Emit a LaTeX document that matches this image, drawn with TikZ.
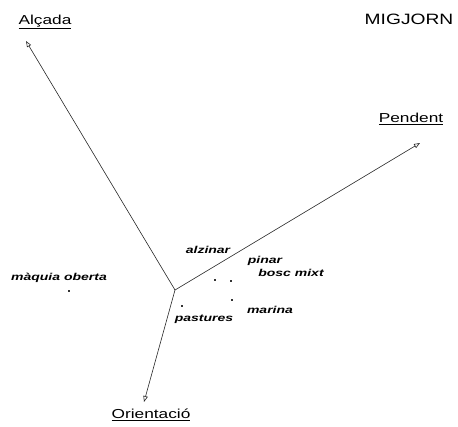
\documentclass[tikz,border=0pt]{standalone}
\usepackage{fontspec}
\usetikzlibrary{arrows.meta}
\newfontfamily\axfont[FakeStretch=1.33]{Liberation Sans}
\newfontfamily\tfont[FakeStretch=1.28]{Liberation Sans}
\newfontfamily\spfont[FakeStretch=1.4]{Liberation Sans}
\tikzset{
  axis/.style={draw=black!85, line width=0.6pt, -{Triangle[open, length=6pt, width=4.5pt]}},
  axlabel/.style={inner sep=0pt, font=\axfont\fontsize{13}{13}\selectfont},
  title/.style={inner sep=0pt, font=\tfont\fontsize{15}{15}\selectfont},
  sp/.style={inner sep=0pt, font=\spfont\fontsize{10}{10}\selectfont\bfseries\itshape},
  dot/.style={fill=black!80, inner sep=0pt, minimum size=1.6pt, rectangle}
}
\begin{document}
\begin{tikzpicture}[x=1pt, y=-1pt]
\useasboundingbox (0,0) rectangle (458,426);
\coordinate (O) at (175,290);
\coordinate (tA) at (26,41);
\coordinate (tP) at (420,143);
\coordinate (tR) at (144,402);
\draw[axis] (O) -- (tA);
\draw[axis] (O) -- (tP);
\draw[axis] (O) -- (tR);
\node[axlabel] (alcada) at (45,22) {\underline{Alçada}};
\node[title] (migjorn) at (409,19) {MIGJORN};
\node[axlabel] (pendent) at (411,119) {\underline{Pendent}};
\node[axlabel] (orient) at (151,415) {\underline{Orientació}};
\node[sp] (alzinar) at (208,250) {alzinar};
\node[sp] (pinar) at (265,261) {pinar};
\node[sp] (bosc) at (291,273) {bosc mixt};
\node[sp] (marina) at (270,310) {marina};
\node[sp] (pastures) at (204,319) {pastures};
\node[sp] (maquia) at (59,278) {màquia oberta};
\node[dot] (d1) at (215,280) {};
\node[dot] (d2) at (231,281) {};
\node[dot] (d3) at (182,306) {};
\node[dot] (d4) at (232,300) {};
\node[dot] (d5) at (69,291) {};
\end{tikzpicture}
\end{document}
